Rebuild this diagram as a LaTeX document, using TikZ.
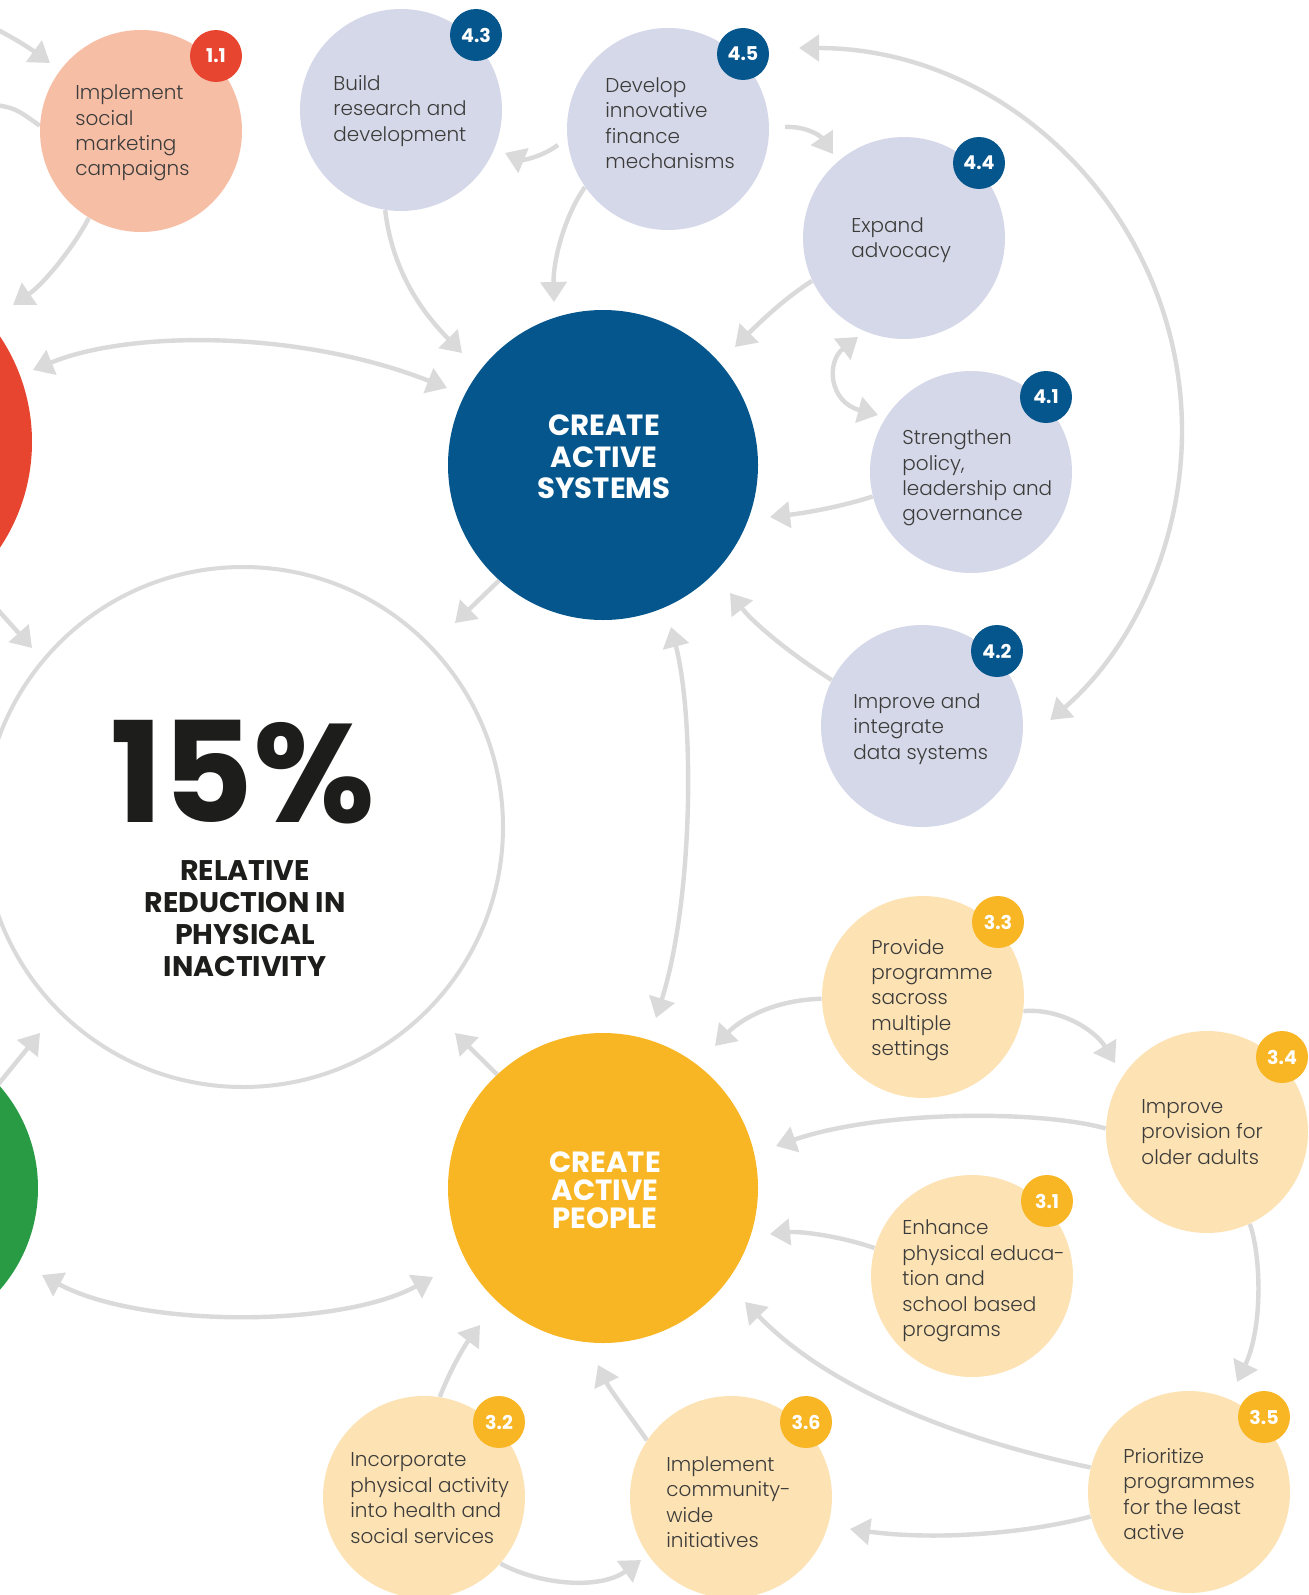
\documentclass[tikz,border=0pt]{standalone}
\usepackage{fontspec}
\setmainfont{Poppins}[UprightFont={* Light},BoldFont={* Bold}]
\usetikzlibrary{arrows.meta,backgrounds}
\definecolor{navy}{HTML}{05568C}
\definecolor{lblue}{HTML}{D5D8E8}
\definecolor{gold}{HTML}{F8B625}
\definecolor{lgold}{HTML}{FDE2B3}
\definecolor{salmon}{HTML}{F7BEA6}
\definecolor{redc}{HTML}{E84530}
\definecolor{greenc}{HTML}{2A9B45}
\definecolor{arr}{HTML}{DADADA}
\definecolor{txtc}{HTML}{3C3C3B}
\definecolor{blk}{HTML}{1D1D1B}
\begin{document}
\begin{tikzpicture}[x=0.5pt,y=-0.5pt,
  small/.style={circle,inner sep=0pt,minimum size=101pt,fill=#1},
  big/.style={circle,inner sep=0pt,minimum size=155pt,fill=#1},
  badge/.style={circle,inner sep=0pt,minimum size=26pt,fill=#1,text=white,font=\bfseries\fontsize{9.5}{10}\selectfont},
  body/.style={anchor=west,align=left,inner sep=0pt,text=txtc,font=\fontsize{10}{12.7}\selectfont},
  conn/.style={draw=arr,line width=2.2pt,-{Triangle[length=10pt,width=13pt]}},
  connb/.style={draw=arr,line width=2.2pt,{Triangle[length=10pt,width=13pt]}-{Triangle[length=10pt,width=13pt]}},
  plain/.style={draw=arr,line width=2.2pt}
]
\useasboundingbox (0,0) rectangle (1309,1595);
\clip (0,0) rectangle (1309,1595);

% big circles
\node[circle,inner sep=0pt,minimum size=190pt,fill=redc] (red) at (-158,442) {};
\node[big=greenc] (green) at (-117,1188) {};
\node[circle,inner sep=0pt,minimum size=260pt,draw=arr,line width=2pt,fill=white] (pct) at (243,827) {};
\node[big=navy] (sys) at (603,465) {};
\node[big=gold] (ppl) at (603,1188) {};

% small circles
\node[small=salmon] (c11) at (141,131) {};
\node[small=lblue] (c43) at (401,110) {};
\node[small=lblue] (c45) at (668,129) {};
\node[small=lblue] (c44) at (904,238) {};
\node[small=lblue] (c41) at (971,472) {};
\node[small=lblue] (c42) at (922,726) {};
\node[small=lgold] (c33) at (923,997) {};
\node[small=lgold] (c34) at (1207,1132) {};
\node[small=lgold] (c31) at (972,1276) {};
\node[small=lgold] (c35) at (1189,1492) {};
\node[small=lgold] (c32) at (424,1497) {};
\node[small=lgold] (c36) at (731,1497) {};

% badges
\node[badge=redc] (b11) at ([shift={(75,-75)}]c11.center) {1.1};
\node[badge=navy] (b43) at ([shift={(75,-75)}]c43.center) {4.3};
\node[badge=navy] (b45) at ([shift={(75,-75)}]c45.center) {4.5};
\node[badge=navy] (b44) at ([shift={(75,-75)}]c44.center) {4.4};
\node[badge=navy] (b41) at ([shift={(75,-75)}]c41.center) {4.1};
\node[badge=navy] (b42) at ([shift={(75,-75)}]c42.center) {4.2};
\node[badge=gold] (b33) at ([shift={(75,-75)}]c33.center) {3.3};
\node[badge=gold] (b34) at ([shift={(75,-75)}]c34.center) {3.4};
\node[badge=gold] (b31) at ([shift={(75,-75)}]c31.center) {3.1};
\node[badge=gold] (b35) at ([shift={(75,-75)}]c35.center) {3.5};
\node[badge=gold] (b32) at ([shift={(75,-75)}]c32.center) {3.2};
\node[badge=gold] (b36) at ([shift={(75,-75)}]c36.center) {3.6};

% texts
\node[body] (x11) at (75,133) {Implement\\social\\marketing\\campaigns};
\node[body] (x43) at (333,111) {Build\\research and\\development};
\node[body] (x45) at (605,123) {Develop\\innovative\\finance\\mechanisms};
\node[body] (x44) at (851,240) {Expand\\advocacy};
\node[body] (x41) at (902,478) {Strengthen\\policy,\\leadership and\\governance};
\node[body] (x42) at (853,729) {Improve and\\integrate\\data systems};
\node[body] (x33) at (871,1000) {Provide\\programme\\sacross\\multiple\\settings};
\node[body] (x34) at (1141,1132) {Improve\\provision for\\older adults};
\node[body] (x31) at (902,1281) {Enhance\\physical educa-\\tion and\\school based\\programs};
\node[body] (x35) at (1123,1494) {Prioritize\\programmes\\for the least\\active};
\node[body] (x32) at (350,1498) {Incorporate\\physical activity\\into health and\\social services};
\node[body] (x36) at (666,1502) {Implement\\community-\\wide\\initiatives};

\node[align=center,inner sep=0pt,text=white,font=\bfseries\fontsize{14.6}{15.8}\selectfont] (xsys) at (604,457) {CREATE\\ACTIVE\\SYSTEMS};
\node[align=center,inner sep=0pt,text=white,font=\bfseries\fontsize{14.6}{14}\selectfont] (xppl) at (605,1190) {CREATE\\ACTIVE\\PEOPLE};
\node[inner sep=0pt,text=blk,text height=50pt,text depth=0pt,font=\bfseries\fontsize{70}{74}\selectfont] (x15) at (243,772) {15\%};
\node[align=center,inner sep=0pt,text=blk,font=\bfseries\fontsize{14.2}{16}\selectfont] (xrel) at (245,919) {RELATIVE\\REDUCTION IN\\PHYSICAL\\INACTIVITY};

% connector end points
\coordinate (s1) at (-10,26);  \coordinate (t1) at (50,63);
\coordinate (s2) at (-10,104);
\coordinate (t3) at (13,305);
\coordinate (t4a) at (33,370); \coordinate (t4b) at (447,388);
\coordinate (t5) at (462,353);
\coordinate (s6) at (558,145); \coordinate (t6) at (505,153);
\coordinate (t7) at (554,302);
\coordinate (s8) at (785,127); \coordinate (t8) at (833,154);
\coordinate (t9) at (735,347);
\coordinate (t10a) at (858,337); \coordinate (t10b) at (878,415);
\coordinate (t11) at (770,517);
\coordinate (t12) at (730,593);
\coordinate (t13) at (455,623);
\coordinate (s14) at (-10,601); \coordinate (t14) at (32,648);
\coordinate (t15a) at (671,627); \coordinate (t15b) at (656,1018);
\coordinate (t16) at (40,1033);
\coordinate (t17) at (455,1033);
\coordinate (t18a) at (42,1275); \coordinate (t18b) at (433,1277);
\coordinate (t19) at (715,1046);
\coordinate (t20) at (1115,1063);
\coordinate (t21) at (776,1146);
\coordinate (t22) at (770,1234);
\coordinate (t23) at (1237,1382);
\coordinate (t24) at (745,1302);
\coordinate (t25) at (850,1529);
\coordinate (t26) at (480,1325);
\coordinate (t27) at (598,1365);
\coordinate (t28) at (641,1560);
\coordinate (t29) at (799,48);

\begin{pgfonlayer}{background}
\fill[white] (0,0) rectangle (1309,1595);
\draw[conn] (s1) .. controls (15,38) and (35,52) .. (t1);
\draw[plain] (s2) .. controls (15,108) .. (c11.177);
\draw[conn] (c11.239) .. controls (75,245) and (45,283) .. (t3);
\draw[connb] (t4a) .. controls (130,330) and (300,330) .. (t4b);
\draw[conn] (c43.261) .. controls (393,275) and (425,315) .. (t5);
\draw[conn] (s6) .. controls (540,158) and (522,160) .. (t6);
\draw[conn] (c45.215) .. controls (565,215) and (553,260) .. (t7);
\draw[conn] (s8) .. controls (805,126) and (820,135) .. (t8);
\draw[conn] (c44.205) .. controls (785,298) and (760,322) .. (t9);
\draw[connb] (t10a) .. controls (826,362) and (829,402) .. (t10b);
\draw[conn] (c41.194) .. controls (840,507) and (805,513) .. (t11);
\draw[conn] (c42.153) .. controls (795,657) and (755,625) .. (t12);
\draw[conn] (sys.228) -- (t13);
\draw[conn] (s14) -- (t14);
\draw[connb] (t15a) .. controls (695,720) and (693,900) .. (t15b);
\draw[conn] (green.42) -- (t16);
\draw[conn] (ppl.133) -- (t17);
\draw[connb] (t18a) .. controls (140,1328) and (340,1328) .. (t18b);
\draw[conn] (c33.181) .. controls (770,1000) and (738,1022) .. (t19);
\draw[conn] (c33.-8) .. controls (1060,1008) and (1095,1030) .. (t20);
\draw[conn] (c34.178) .. controls (1040,1110) and (880,1110) .. (t21);
\draw[conn] (c31.164) .. controls (840,1236) and (800,1231) .. (t22);
\draw[conn] (c34.-65) .. controls (1262,1260) and (1262,1330) .. (t23);
\draw[conn] (c35.166) .. controls (960,1440) and (830,1390) .. (t24);
\draw[conn] (c35.194) .. controls (1020,1535) and (930,1540) .. (t25);
\draw[conn] (c32.81) .. controls (450,1370) and (465,1345) .. (t26);
\draw[conn] (c36.146) .. controls (633,1420) and (610,1390) .. (t27);
\draw[conn] (c32.-41) .. controls (540,1585) and (600,1590) .. (t28);
\draw[connb] (t29) arc[start angle=-90,end angle=49,radius=383];
\end{pgfonlayer}
\end{tikzpicture}
\end{document}
